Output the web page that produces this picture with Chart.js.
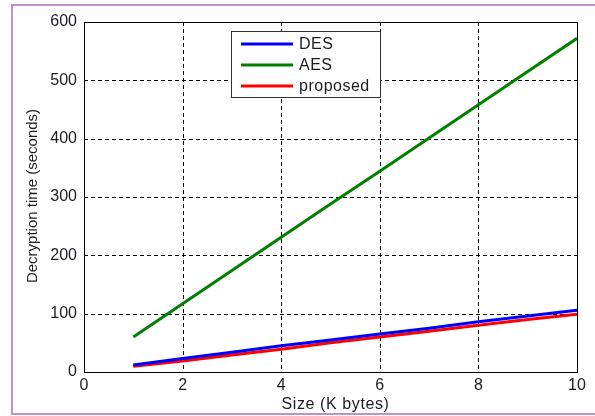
<!DOCTYPE html>
<html>
<head>
<meta charset="utf-8">
<script src="https://cdn.jsdelivr.net/npm/chart.js@4"></script>
<style>
  html, body { margin: 0; padding: 0; background: #fff; }
  canvas { display: block; }
</style>
</head>
<body>
<canvas id="c" width="595" height="416"></canvas>
<script>
// File size in K bytes
const sizes = [1, 2, 3, 4, 5, 6, 7, 8, 9, 10];
// Decryption time in seconds
const desTimes = [12, 23, 34, 45, 55, 65, 75, 86, 96, 106];
const aesTimes = [60, 117, 174, 231, 288, 344, 401, 458, 515, 572];
const proposedTimes = [10, 19, 29, 39, 50, 60, 70, 80, 90, 99];
const seriesNames = ['DES', 'AES', 'proposed'];
const seriesColors = ['#0000ff', '#008000', '#ff0000'];
const xTicks = [0, 2, 4, 6, 8, 10];
const yTicks = [0, 100, 200, 300, 400, 500, 600];
const xTitle = 'Size (K bytes)';
const yTitle = 'Decryption time (seconds)';

const FONT = '"Liberation Sans", Arial, sans-serif';
const TEXT = '#1c1c24';

const toPoints = (ys) => sizes.map((x, i) => ({ x, y: ys[i] }));

const decor = {
  id: 'decor',
  beforeDraw(chart) {
    const ctx = chart.ctx;
    ctx.save();
    ctx.fillStyle = '#ffffff';
    ctx.fillRect(0, 0, chart.width, chart.height);
    // outer figure border
    ctx.fillStyle = '#c48fc8';
    ctx.fillRect(11, 4, chart.width - 11, 2);
    ctx.fillRect(11, 4, 2, chart.height - 6);
    ctx.fillRect(11, chart.height - 3, chart.width - 11, 2);
    ctx.restore();
  },
  beforeDatasetsDraw(chart) {
    const { ctx, chartArea: a, scales: { x, y } } = chart;
    ctx.save();
    ctx.strokeStyle = '#000';
    ctx.lineWidth = 1;
    ctx.setLineDash([4, 3]);
    xTicks.forEach(v => {
      const px = Math.round(x.getPixelForValue(v)) + 0.5;
      ctx.beginPath(); ctx.moveTo(px, a.top); ctx.lineTo(px, a.bottom); ctx.stroke();
    });
    yTicks.forEach(v => {
      const py = Math.round(y.getPixelForValue(v)) + 0.5;
      ctx.beginPath(); ctx.moveTo(a.left, py); ctx.lineTo(a.right, py); ctx.stroke();
    });
    ctx.restore();
  },
  afterDatasetsDraw(chart) {
    const { ctx, chartArea: a } = chart;
    ctx.save();
    // axes box
    ctx.strokeStyle = '#000';
    ctx.lineWidth = 1;
    ctx.strokeRect(Math.round(a.left) + 0.5, Math.round(a.top) + 0.5,
      Math.round(a.right - a.left), Math.round(a.bottom - a.top));

    // legend
    const lx = 231, ly = 31, lw = 149, lh = 66;
    ctx.fillStyle = '#fff';
    ctx.fillRect(lx, ly, lw, lh);
    ctx.strokeStyle = '#333';
    ctx.strokeRect(lx + 0.5, ly + 0.5, lw, lh);
    ctx.font = '16px ' + FONT;
    ctx.textBaseline = 'middle';
    ctx.textAlign = 'left';
    ctx.letterSpacing = '0.5px';
    chart.data.datasets.forEach((ds, i) => {
      const yy = 44 + i * 21;
      ctx.strokeStyle = ds.borderColor;
      ctx.lineWidth = 3;
      ctx.beginPath(); ctx.moveTo(241, yy); ctx.lineTo(293, yy); ctx.stroke();
      ctx.fillStyle = TEXT;
      ctx.fillText(ds.label, 299, yy + 1);
    });

    // axis titles
    ctx.fillStyle = TEXT;
    ctx.textAlign = 'center';
    ctx.letterSpacing = '0.6px';
    ctx.font = '16px ' + FONT;
    ctx.fillText(xTitle, (a.left + a.right) / 2 + 5, 405);
    ctx.letterSpacing = '0px';
    ctx.font = '15px ' + FONT;
    ctx.translate(33, 196);
    ctx.rotate(-Math.PI / 2);
    ctx.fillText(yTitle, 0, 0);
    ctx.restore();
  }
};

new Chart(document.getElementById('c'), {
  type: 'line',
  data: {
    datasets: [
      { label: seriesNames[0], data: toPoints(desTimes), borderColor: seriesColors[0], borderWidth: 3 },
      { label: seriesNames[1], data: toPoints(aesTimes), borderColor: seriesColors[1], borderWidth: 3 },
      { label: seriesNames[2], data: toPoints(proposedTimes), borderColor: seriesColors[2], borderWidth: 3 }
    ]
  },
  options: {
    responsive: false,
    animation: false,
    devicePixelRatio: 1,
    elements: { point: { radius: 0 }, line: { tension: 0, borderCapStyle: 'butt' } },
    layout: { padding: { left: 0, right: 18, top: 22, bottom: 0 } },
    plugins: { legend: { display: false }, tooltip: { enabled: false } },
    scales: {
      x: {
        type: 'linear', min: 0, max: 10,
        afterFit(s) { s.height = 44; },
        afterBuildTicks(s) { s.ticks = xTicks.map(v => ({ value: v })); },
        grid: { display: false, drawTicks: false },
        border: { display: false },
        ticks: { color: TEXT, padding: 4, maxRotation: 0, font: { size: 16, family: FONT } }
      },
      y: {
        type: 'linear', min: 0, max: 600,
        afterFit(s) { s.width = 84; },
        afterBuildTicks(s) { s.ticks = yTicks.map(v => ({ value: v })); },
        grid: { display: false, drawTicks: false },
        border: { display: false },
        ticks: { color: TEXT, padding: 7, font: { size: 16, family: FONT } }
      }
    }
  },
  plugins: [decor]
});
</script>
</body>
</html>
